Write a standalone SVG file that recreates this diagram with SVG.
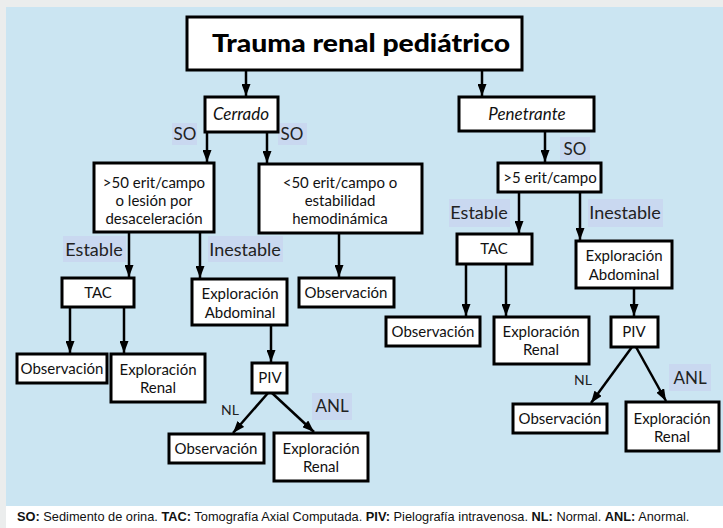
<svg xmlns="http://www.w3.org/2000/svg" width="723" height="528" viewBox="0 0 723 528">
<defs>
<style>
.box{fill:#fff;stroke:#000;stroke-width:3}
.t{font-family:Lato,"Open Sans",sans-serif;font-size:15px;fill:#111;text-anchor:middle}
.it{font-family:Lato,"Open Sans",sans-serif;font-size:17px;font-style:italic;fill:#111;text-anchor:middle}
.lbl{font-family:Lato,"Open Sans",sans-serif;font-size:18px;fill:#222;text-anchor:middle}
.so{font-family:Lato,"Open Sans",sans-serif;font-size:17px;fill:#222;text-anchor:middle}
.nl{font-family:Lato,"Open Sans",sans-serif;font-size:14px;fill:#222;text-anchor:middle}
.hl{fill:#c9d8f0}
.c{stroke:#000;stroke-width:2.5;fill:none;marker-end:url(#ah)}
.cap{font-family:"Liberation Sans",Arial,sans-serif;font-size:12.8px;fill:#111}
</style>
<marker id="ah" viewBox="0 0 12 9" refX="12" refY="4.5" markerWidth="12" markerHeight="9" markerUnits="userSpaceOnUse" orient="auto">
<path d="M0,0 L12,4.5 L0,9 z" fill="#000"/>
</marker>
</defs>
<rect x="0" y="0" width="723" height="528" fill="#ebeded"/>
<rect x="6" y="7" width="717" height="499" fill="#cbe5f2"/>
<rect x="6" y="506" width="717" height="22" fill="#ffffff"/>

<g id="labels">
<rect class="hl" x="172" y="123" width="25" height="22"/><text class="so" x="185" y="140">SO</text>
<rect class="hl" x="278" y="123" width="29" height="22"/><text class="so" x="292" y="140">SO</text>
<rect class="hl" x="560" y="137" width="30" height="23"/><text class="so" x="575" y="155">SO</text>
<rect class="hl" x="63" y="236" width="63" height="26"/><text class="lbl" x="94" y="256">Estable</text>
<rect class="hl" x="208" y="236" width="75" height="26"/><text class="lbl" x="245" y="256">Inestable</text>
<rect class="hl" x="449" y="199" width="61" height="28"/><text class="lbl" x="479" y="219">Estable</text>
<rect class="hl" x="588" y="199" width="75" height="28"/><text class="lbl" x="625" y="219">Inestable</text>
<text class="nl" x="230" y="415">NL</text>
<rect class="hl" x="312" y="393" width="40" height="27"/><text class="so" x="332" y="412">ANL</text>
<text class="nl" x="583" y="385">NL</text>
<rect class="hl" x="669" y="364" width="42" height="27"/><text class="so" x="690" y="384">ANL</text>
</g>

<g id="connectors">
<path class="c" d="M246 70 V96"/>
<path class="c" d="M482 70 V96"/>
<path class="c" d="M207 132 V162"/>
<path class="c" d="M267 132 V163"/>
<path class="c" d="M545 131 V162"/>
<path class="c" d="M129 232 V277"/>
<path class="c" d="M200 232 V278"/>
<path class="c" d="M339 233 V277"/>
<path class="c" d="M519 192 V233"/>
<path class="c" d="M580 192 V240"/>
<path class="c" d="M70 307 V353"/>
<path class="c" d="M124 307 V353"/>
<path class="c" d="M271 325 V362"/>
<path class="c" d="M466 264 V316"/>
<path class="c" d="M506 264 V316"/>
<path class="c" d="M634 288 V316"/>
<path class="c" d="M268 393 L233 433"/>
<path class="c" d="M272 393 L314 432"/>
<path class="c" d="M632 347 L591 403"/>
<path class="c" d="M636 347 L666 401"/>
</g>

<g id="title"><rect class="box" x="187" y="17" width="335" height="53"/><text x="361" y="52" text-anchor="middle" font-family="Lato,'Open Sans',sans-serif" font-size="25" font-weight="900" fill="#000" textLength="298" lengthAdjust="spacingAndGlyphs">Trauma renal pediátrico</text></g>
<g id="cerrado"><rect class="box" x="205" y="97" width="73" height="35"/><text class="it" x="241" y="120">Cerrado</text></g>
<g id="penetrante"><rect class="box" x="459" y="97" width="135" height="34"/><text class="it" x="527" y="120">Penetrante</text></g>
<g id="gt50"><rect class="box" x="94" y="163" width="120" height="69"/><text class="t" x="154" y="188">&gt;50 erit/campo</text><text class="t" x="154" y="206">o lesión por</text><text class="t" x="154" y="224">desaceleración</text></g>
<g id="lt50"><rect class="box" x="259" y="164" width="163" height="69"/><text class="t" x="340" y="188">&lt;50 erit/campo o</text><text class="t" x="340" y="206">estabilidad</text><text class="t" x="340" y="224">hemodinámica</text></g>
<g id="gt5"><rect class="box" x="498" y="163" width="103" height="29"/><text class="t" x="550" y="183">&gt;5 erit/campo</text></g>
<g id="tacL"><rect class="box" x="62" y="278" width="72" height="29"/><text class="t" x="98" y="298">TAC</text></g>
<g id="expAbdL"><rect class="box" x="192" y="279" width="95" height="46"/><text class="t" x="240" y="299">Exploración</text><text class="t" x="240" y="318">Abdominal</text></g>
<g id="obsMid"><rect class="box" x="299" y="278" width="95" height="29"/><text class="t" x="346" y="298">Observación</text></g>
<g id="tacR"><rect class="box" x="457" y="234" width="75" height="30"/><text class="t" x="494" y="254">TAC</text></g>
<g id="expAbdR"><rect class="box" x="576" y="241" width="96" height="47"/><text class="t" x="624" y="261">Exploración</text><text class="t" x="624" y="280">Abdominal</text></g>
<g id="obsL"><rect class="box" x="17" y="354" width="90" height="29"/><text class="t" x="62" y="374">Observación</text></g>
<g id="expRenL"><rect class="box" x="111" y="354" width="94" height="48"/><text class="t" x="158" y="375">Exploración</text><text class="t" x="158" y="393">Renal</text></g>
<g id="pivL"><rect class="box" x="252" y="363" width="35" height="30"/><text class="t" x="270" y="383">PIV</text></g>
<g id="obsR1"><rect class="box" x="386" y="317" width="94" height="29"/><text class="t" x="433" y="337">Observación</text></g>
<g id="expRenR1"><rect class="box" x="494" y="317" width="95" height="47"/><text class="t" x="541" y="337">Exploración</text><text class="t" x="541" y="355">Renal</text></g>
<g id="pivR"><rect class="box" x="611" y="317" width="47" height="30"/><text class="t" x="634" y="337">PIV</text></g>
<g id="obsB"><rect class="box" x="169" y="434" width="95" height="29"/><text class="t" x="216" y="454">Observación</text></g>
<g id="expRenB"><rect class="box" x="274" y="433" width="94" height="48"/><text class="t" x="321" y="454">Exploración</text><text class="t" x="321" y="472">Renal</text></g>
<g id="obsBR"><rect class="box" x="513" y="404" width="94" height="29"/><text class="t" x="560" y="424">Observación</text></g>
<g id="expRenBR"><rect class="box" x="626" y="402" width="93" height="49"/><text class="t" x="672" y="424">Exploración</text><text class="t" x="672" y="442">Renal</text></g>

<text class="cap" x="17" y="521"><tspan font-weight="bold">SO:</tspan> Sedimento de orina. <tspan font-weight="bold">TAC:</tspan> Tomografía Axial Computada. <tspan font-weight="bold">PIV:</tspan> Pielografía intravenosa. <tspan font-weight="bold">NL:</tspan> Normal. <tspan font-weight="bold">ANL:</tspan> Anormal.</text>
</svg>
